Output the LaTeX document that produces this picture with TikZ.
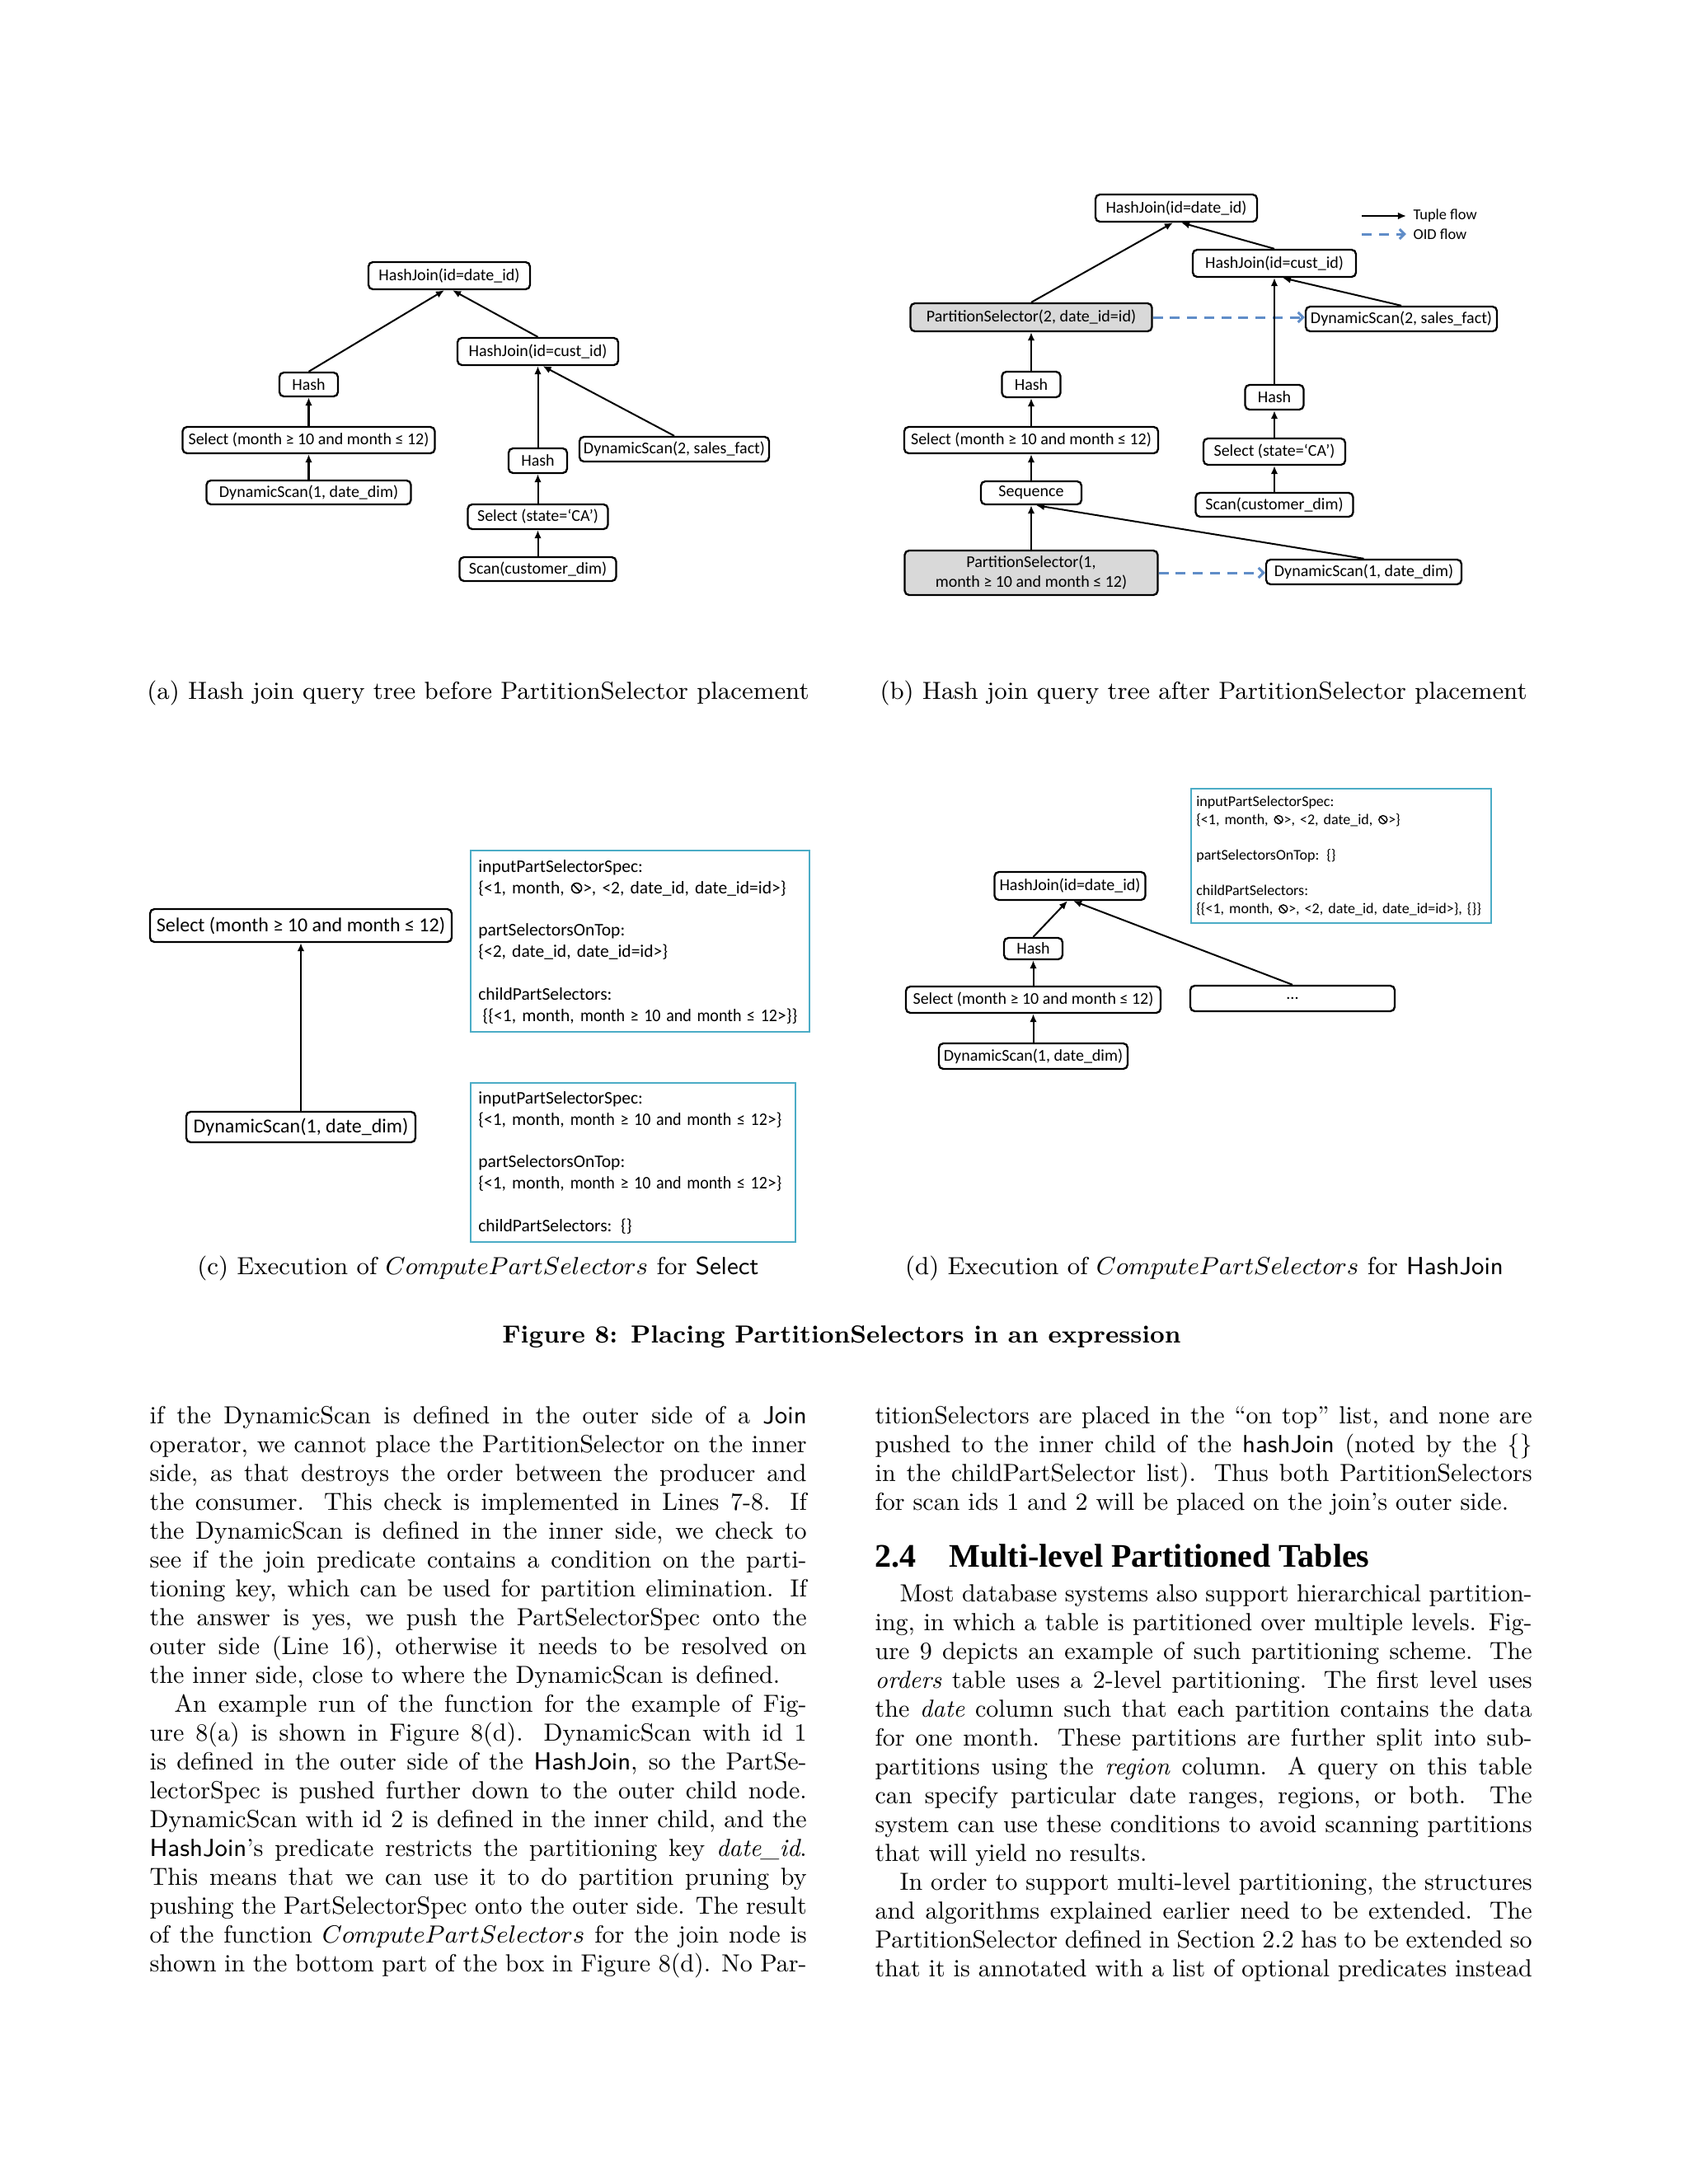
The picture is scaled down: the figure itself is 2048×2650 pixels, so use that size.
\documentclass[tikz,border=0pt]{standalone}
\usepackage{fontspec}
\usepackage{graphicx}
\newfontfamily\diafont{Carlito}
\newfontfamily\headfont{Liberation Serif}
\newfontfamily\bodyfont{lmroman10-regular}[Extension=.otf, Ligatures=TeX, ItalicFont=lmroman10-italic, BoldFont=lmroman10-bold, BoldItalicFont=lmroman10-bolditalic]
\usetikzlibrary{arrows.meta}
\definecolor{oidblue}{RGB}{96,141,200}
\definecolor{specteal}{RGB}{75,172,198}
\newdimen\colw \colw=238.17bp
\newcommand\nullsym{\hspace{0.04em}\tikz[baseline=0pt,x=1em,y=1em]{\draw[line width=0.075em] (0.3,0.31) circle (0.28) (0.11,0.5)--(0.49,0.12);}\hspace{0.04em}}
\newcommand\cspecfont{\diafont\fontsize{6.45}{7.74}\selectfont}
\newcommand\dspecfont{\diafont\fontsize{5.4}{6.49}\selectfont}
\newcommand\mcond{\scalebox{0.93}[1]{month ≥ 10 and month ≤ 12}}
\newcommand\jl[1]{\hbox to \colw{#1}}
\newcommand\lastl[1]{\hbox to \colw{#1\hfil}}
\newcommand\bodysetup{\spaceskip=0pt \xspaceskip=0pt \rightskip=0pt \leftskip=0pt }
\begin{document}
\begin{tikzpicture}[x=0.298828bp, y=-0.298828bp,
  sz/.style 2 args={minimum width={#1*0.298828bp}, minimum height={#2*0.298828bp}},
  op/.style={draw, line width=0.7bp, rounded corners=1.6bp, inner sep=0pt, font=\diafont\fontsize{6}{7.2}\selectfont},
  opc/.style={op, font=\diafont\fontsize{7.2}{8.6}\selectfont},
  psel/.style={op, fill=gray!30, align=center},
  arr/.style={line width=0.6bp, -{Latex[length=3bp,width=2.6bp]}},
  oid/.style={line width=0.9bp, draw=oidblue, dash pattern=on 3.6bp off 2.6bp, -{Straight Barb[length=1.8bp,width=3.6bp]}},
  specbox/.style={draw=specteal, line width=0.8bp, inner sep=0pt},
  spectext/.style={anchor=north west, inner sep=0pt, align=left, text width=130bp},
  body/.style={inner sep=0pt, text width=238.17bp, align=justify, font=\bodyfont\fontsize{9}{10.5}\selectfont},
  capt/.style={inner sep=0pt, anchor=base, font=\fontsize{9}{10.5}\selectfont}
]
\fill[white] (0,0) rectangle (2048,2650);
\useasboundingbox (0,0) rectangle (2048,2650);

% ---------------- (a) ----------------
\node[op, sz={196}{33}] (aHJ1) at (545,334.5) {HashJoin(id=date\_id)};
\node[op, sz={195}{33}] (aHJ2) at (652.5,426.5) {HashJoin(id=cust\_id)};
\node[op, sz={71}{29}] (aHash1) at (374.5,466.5) {Hash};
\node[op, sz={306}{32}] (aSel1) at (374.5,534) {Select (month ≥ 10 and month ≤ 12)};
\node[op, sz={248}{29}] (aDS1) at (374.5,597.5) {DynamicScan(1, date\_dim)};
\node[op, sz={71}{30}] (aHash2) at (652.5,559) {Hash};
\node[op, sz={230}{30}] (aDS2) at (818,545) {DynamicScan(2, sales\_fact)};
\node[op, sz={170}{30}] (aSel2) at (652.5,627) {Select (state=‘CA’)};
\node[op, sz={190}{29}] (aScan) at (652.5,690.5) {Scan(customer\_dim)};
\draw[arr] (aHash1.north) -- ([xshift=-1.8bp]aHJ1.south);
\draw[arr] (aHJ2.north) -- ([xshift=1.2bp]aHJ1.south);
\draw[arr] (aSel1.north) -- (aHash1.south);
\draw[arr] (aDS1.north) -- (aSel1.south);
\draw[arr] (aHash2.north) -- (aHJ2.south);
\draw[arr] (aDS2.north) -- ([xshift=1.8bp]aHJ2.south);
\draw[arr] (aSel2.north) -- (aHash2.south);
\draw[arr] (aScan.north) -- (aSel2.south);

% ---------------- (b) ----------------
\node[op, sz={196}{33}] (bHJ1) at (1427,252.5) {HashJoin(id=date\_id)};
\node[op, sz={198}{33}] (bHJ2) at (1546,319.5) {HashJoin(id=cust\_id)};
\node[psel, sz={293}{34}] (bPS2) at (1251,385) {PartitionSelector(2, date\_id=id)};
\node[op, sz={232}{30}] (bDS2) at (1700,387) {DynamicScan(2, sales\_fact)};
\node[op, sz={71}{31}] (bHash1) at (1251,466.5) {Hash};
\node[op, sz={71}{30}] (bHash2) at (1546,482) {Hash};
\node[op, sz={308}{32}] (bSel1) at (1251,534) {Select (month ≥ 10 and month ≤ 12)};
\node[op, sz={172}{32}] (bSel2) at (1546,548) {Select (state=‘CA’)};
\node[op, sz={122}{28}] (bSeq) at (1251,598) {Sequence};
\node[op, sz={191}{29}] (bScan) at (1546,612.5) {Scan(customer\_dim)};
\node[psel, sz={307}{54}] (bPS1) at (1251,695) {PartitionSelector(1,\\month ≥ 10 and month ≤ 12)};
\node[op, sz={237}{30}] (bDS1) at (1654.5,694) {DynamicScan(1, date\_dim)};
\draw[oid] (bPS2.east) -- (bPS2.east -| bDS2.west);
\draw[oid] (bPS1.east) -- (bPS1.east -| bDS1.west);
\draw[arr] (bPS2.north) -- ([xshift=-1.2bp]bHJ1.south);
\draw[arr] (bHJ2.north) -- ([xshift=1.8bp]bHJ1.south);
\draw[arr] (bHash2.north) -- (bHJ2.south);
\draw[arr] (bDS2.north) -- ([xshift=3bp]bHJ2.south);
\draw[arr] (bHash1.north) -- (bPS2.south);
\draw[arr] (bSel1.north) -- (bHash1.south);
\draw[arr] (bSeq.north) -- (bSel1.south);
\draw[arr] (bPS1.north) -- (bSeq.south);
\draw[arr] (bDS1.north) -- ([xshift=1.8bp]bSeq.south);
\draw[arr] (bSel2.north) -- (bHash2.south);
\draw[arr] (bScan.north) -- (bSel2.south);
% legend
\node[inner sep=0pt, anchor=west, font=\diafont\fontsize{5.5}{6.6}\selectfont] (lgT) at (1714,262) {Tuple flow};
\node[inner sep=0pt, anchor=west, font=\diafont\fontsize{5.5}{6.6}\selectfont] (lgO) at (1714,284) {OID flow};
\coordinate (lgTs) at (1652,262);
\coordinate (lgOs) at (1652,284);
\draw[arr] (lgTs) -- ([xshift=-2.4bp]lgT.west);
\draw[oid] (lgOs) -- ([xshift=-2.4bp]lgO.west);

\node[capt] (capA) at (580,848) {(a) Hash join query tree before PartitionSelector placement};
\node[capt] (capB) at (1460,848) {(b) Hash join query tree after PartitionSelector placement};

% ---------------- (c) ----------------
\node[opc, sz={366}{40}] (cSel) at (365,1123) {Select (month ≥ 10 and month ≤ 12)};
\node[opc, sz={278}{37}] (cDS) at (365,1367.5) {DynamicScan(1, date\_dim)};
\draw[arr] (cDS.north) -- (cSel.south);
\node[specbox, sz={411}{220}] (cBox1) at (776.5,1142) {};
\node[spectext, font=\cspecfont] (cT1) at ([shift={(10,9)}]cBox1.north west)
 {\strut inputPartSelectorSpec:\\
  \{<1, month, \nullsym>, <2, date\_id, date\_id=id>\}\\[7.74bp]
  partSelectorsOnTop:\\
  \{<2, date\_id, date\_id=id>\}\\[7.74bp]
  childPartSelectors:\\
  \hspace*{0.25em}\{\{<1, month, \mcond>\}\}};
\node[specbox, sz={394}{193}] (cBox2) at (768,1410.5) {};
\node[spectext, font=\cspecfont] (cT2) at ([shift={(10,8)}]cBox2.north west)
 {\strut inputPartSelectorSpec:\\
  \{<1, month, \mcond>\}\\[7.74bp]
  partSelectorsOnTop:\\
  \{<1, month, \mcond>\}\\[7.74bp]
  childPartSelectors: \{\}};

% ---------------- (d) ----------------
\node[op, sz={183}{34}] (dHJ) at (1298,1075) {HashJoin(id=date\_id)};
\node[op, sz={71}{26}] (dHash) at (1253.5,1151) {Hash};
\node[op, sz={309}{32}] (dSel) at (1253.5,1213) {Select (month ≥ 10 and month ≤ 12)};
\node[op, sz={229}{31}] (dDS) at (1253.5,1281.5) {DynamicScan(1, date\_dim)};
\node[op, sz={248}{31}] (dDots) at (1568,1211.5) {...};
\draw[arr] (dHash.north) -- ([xshift=-0.9bp]dHJ.south);
\draw[arr] (dDots.north) -- ([xshift=1.2bp]dHJ.south);
\draw[arr] (dSel.north) -- (dHash.south);
\draw[arr] (dDS.north) -- (dSel.south);
\node[specbox, sz={364}{163}] (dBox) at (1627,1038.5) {};
\node[spectext, font=\dspecfont] (dT) at ([shift={(7,7)}]dBox.north west)
 {\strut inputPartSelectorSpec:\\
  \{<1, month, \nullsym>, <2, date\_id, \nullsym>\}\\[6.49bp]
  partSelectorsOnTop: \{\}\\[6.49bp]
  childPartSelectors:\\
  \{\{<1, month, \nullsym>, <2, date\_id, date\_id=id>\}, \{\}\}};

\node[capt] (capC) at (580,1546) {(c) Execution of $ComputePartSelectors$ for \textsf{Select}};
\node[capt] (capD) at (1461,1546) {(d) Execution of $ComputePartSelectors$ for \textsf{HashJoin}};
\node[capt, font=\fontsize{9}{10.5}\selectfont\bfseries] (figcap) at (1021,1629) {Figure 8: Placing PartitionSelectors in an expression};

% ---------------- body text ----------------
\node[body, anchor=base west] (colL) at (181,1727) {\bodysetup
\jl{if the DynamicScan is defined in the outer side of a \textsf{Join}}
\jl{operator, we cannot place the PartitionSelector on the inner}
\jl{side, as that destroys the order between the producer and}
\jl{the consumer.  This check is implemented in Lines 7-8.  If}
\jl{the DynamicScan is defined in the inner side, we check to}
\jl{see if the join predicate contains a condition on the parti-}
\jl{tioning key, which can be used for partition elimination.  If}
\jl{the answer is yes, we push the PartSelectorSpec onto the}
\jl{outer side (Line 16), otherwise it needs to be resolved on}
\lastl{the inner side, close to where the DynamicScan is defined.}
\jl{\hskip 1em An example run of the function for the example of Fig-}
\jl{ure 8(a) is shown in Figure 8(d).  DynamicScan with id 1}
\jl{is defined in the outer side of the \textsf{HashJoin}, so the PartSe-}
\jl{lectorSpec is pushed further down to the outer child node.}
\jl{DynamicScan with id 2 is defined in the inner child, and the}
\jl{\textsf{HashJoin}'s predicate restricts the partitioning key \textit{date\_id}.}
\jl{This means that we can use it to do partition pruning by}
\jl{pushing the PartSelectorSpec onto the outer side.  The result}
\jl{of the function $ComputePartSelectors$ for the join node is}
\jl{shown in the bottom part of the box in Figure 8(d).  No Par-}};

\node[body, anchor=base west] (colR1) at (1061,1727) {\bodysetup
\jl{titionSelectors are placed in the ``on top'' list, and none are}
\jl{pushed to the inner child of the \textsf{hashJoin} (noted by the \{\}}
\jl{in the childPartSelector list).  Thus both PartitionSelectors}
\lastl{for scan ids 1 and 2 will be placed on the join's outer side.}};

\node[inner sep=0pt, anchor=base west, font=\headfont\bfseries\fontsize{12}{14}\selectfont] (sec) at (1061,1901) {2.4\hspace{1em}Multi-level Partitioned Tables};

\node[body, anchor=base west] (colR2) at (1061,1943) {\bodysetup
\jl{\hskip 1em Most database systems also support hierarchical partition-}
\jl{ing, in which a table is partitioned over multiple levels.  Fig-}
\jl{ure 9 depicts an example of such partitioning scheme.  The}
\jl{\textit{orders} table uses a 2-level partitioning.  The first level uses}
\jl{the \textit{date} column such that each partition contains the data}
\jl{for one month.  These partitions are further split into sub-}
\jl{partitions using the \textit{region} column.  A query on this table}
\jl{can specify particular date ranges, regions, or both.  The}
\jl{system can use these conditions to avoid scanning partitions}
\lastl{that will yield no results.}
\jl{\hskip 1em In order to support multi-level partitioning, the structures}
\jl{and algorithms explained earlier need to be extended.  The}
\jl{PartitionSelector defined in Section 2.2 has to be extended so}
\jl{that it is annotated with a list of optional predicates instead}};
\end{tikzpicture}
\end{document}
